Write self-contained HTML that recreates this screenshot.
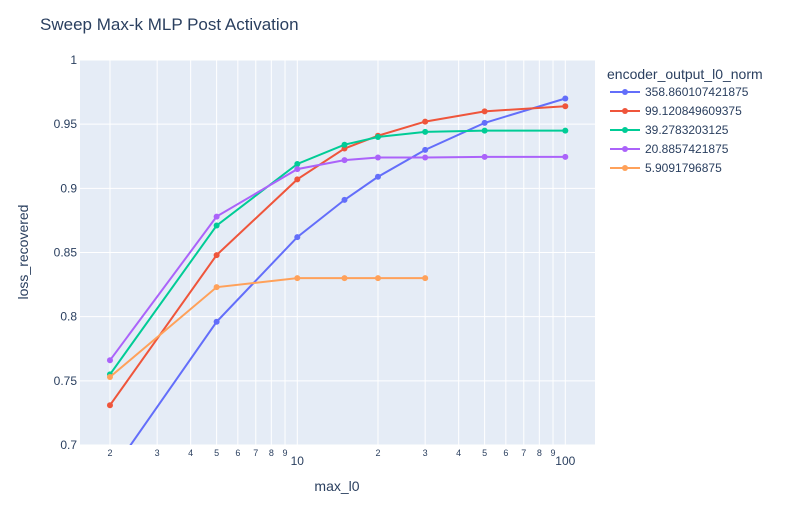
<!DOCTYPE html>
<html><head><meta charset="utf-8"><style>
body{margin:0;background:#fff;font-family:"Liberation Sans",Arial,sans-serif;}
svg text{font-family:"Liberation Sans",Arial,sans-serif;fill:#2a3f5f;}
</style></head><body>
<svg id="chart" width="800" height="525" xmlns="http://www.w3.org/2000/svg">
<rect width="800" height="525" fill="#fff"/>
<text x="40" y="30" font-size="17">Sweep Max-k MLP Post Activation</text>
<rect x="80" y="60" width="515" height="385" fill="#e5ecf6"/>
<g id="grid"></g><g id="ticks"></g><g id="series"></g><g id="legend"></g>
<text x="337" y="491" font-size="14" text-anchor="middle">max_l0</text>
<text x="28" y="252" font-size="14" text-anchor="middle" transform="rotate(-90 28 252)">loss_recovered</text>
</svg>
<script>
const xValues=[2,5,10,15,20,30,50,100];
const seriesNames=["358.860107421875","99.120849609375","39.2783203125","20.8857421875","5.9091796875"];
const seriesColors=["#636efa","#EF553B","#00cc96","#ab63fa","#FFA15A"];
const s1=[0.677,0.796,0.862,0.891,0.909,0.930,0.951,0.970];
const s2=[0.731,0.848,0.907,0.931,0.941,0.952,0.960,0.964];
const s3=[0.755,0.871,0.919,0.934,0.940,0.944,0.945,0.945];
const s4=[0.766,0.878,0.915,0.922,0.924,0.924,0.9245,0.9245];
const s5=[0.753,0.823,0.830,0.830,0.830,0.830];
const yTicks=[0.7,0.75,0.8,0.85,0.9,0.95,1];
const yTickLabels=["0.7","0.75","0.8","0.85","0.9","0.95","1"];
const xTicks=[2,3,4,5,6,7,8,9,10,20,30,40,50,60,70,80,90,100];
const xTickLabels=["2","3","4","5","6","7","8","9","10","2","3","4","5","6","7","8","9","100"];
const L=80,T=60,W=515,H=385;
const NS="http://www.w3.org/2000/svg";
const xs=v=>297.3+(Math.log10(v)-1)*268;
const ys=v=>T+H-(v-0.7)/0.3*H;
function mk(tag,attrs,parent){const e=document.createElementNS(NS,tag);for(const k in attrs)e.setAttribute(k,attrs[k]);parent.appendChild(e);return e;}
const grid=document.getElementById('grid'),ticks=document.getElementById('ticks'),ser=document.getElementById('series'),leg=document.getElementById('legend');
yTicks.forEach((v,i)=>{
 const y=ys(v);
 const g=mk('line',{x1:L,x2:L+W,y1:y,y2:y,stroke:'#fff','stroke-width':1},grid);
 
 
 const t=mk('text',{x:L-3,y:y+4,'font-size':12,'text-anchor':'end'},ticks);
 t.textContent=yTickLabels[i];
 
 
});
xTicks.forEach((v,i)=>{
 const x=xs(v);
 const g=mk('line',{x1:x,x2:x,y1:T,y2:T+H,stroke:'#fff','stroke-width':1},grid);
 
 
 const big=(v===10||v===100);
 const t=mk('text',{x:x,y:big?465:456,'font-size':big?12:9,'text-anchor':'middle'},ticks);
 t.textContent=xTickLabels[i];
 
 
});
const clip=mk('clipPath',{id:'pc'},document.getElementById('chart'));
mk('rect',{x:L,y:T,width:W,height:H},clip);
[s1,s2,s3,s4,s5].forEach((s,si)=>{
 const g=mk('g',{'clip-path':'url(#pc)'},ser);
 
 
 const pts=s.map((v,i)=>xs(xValues[i])+','+ys(v)).join(' ');
 const pl=mk('polyline',{points:pts,fill:'none',stroke:seriesColors[si],'stroke-width':2},g);
 
 
 s.forEach((v,i)=>{
  const c=mk('circle',{cx:xs(xValues[i]),cy:ys(v),r:3,fill:seriesColors[si]},g);
  
  
 });
});
const lt=mk('text',{x:607,y:79,'font-size':14},leg);
lt.textContent='encoder_output_l0_norm';


seriesNames.forEach((n,i)=>{
 const y=92+i*19;
 const g=mk('g',{},leg);
 
 
 mk('line',{x1:610,x2:640,y1:y,y2:y,stroke:seriesColors[i],'stroke-width':2},g);
 mk('circle',{cx:625,cy:y,r:3,fill:seriesColors[i]},g);
 const t=mk('text',{x:645,y:y+4,'font-size':12},g);
 t.textContent=n;
});
</script>
</body></html>
